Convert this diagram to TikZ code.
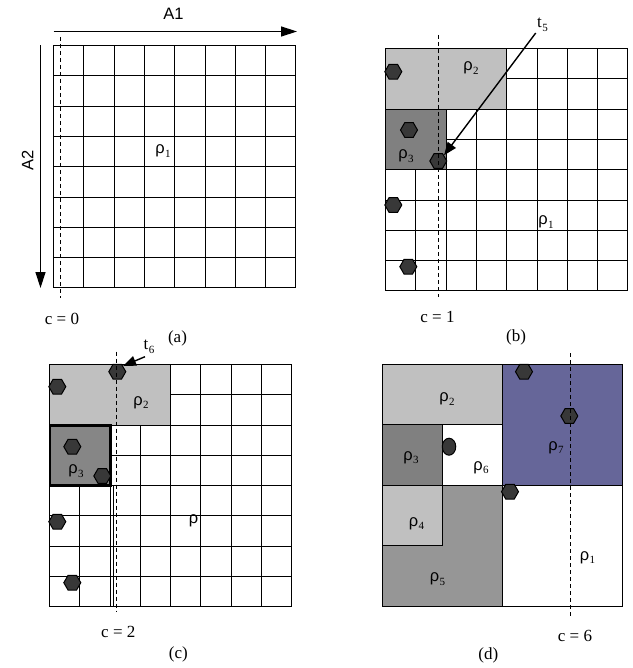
\documentclass[tikz,border=0pt]{standalone}
\usepackage{fontspec}
\setmainfont{Liberation Serif}
\setsansfont{Liberation Sans}
\usetikzlibrary{shapes.geometric,arrows.meta}
\definecolor{lgray}{HTML}{C0C0C0}
\definecolor{dgray}{HTML}{808080}
\definecolor{mgray}{HTML}{969696}
\definecolor{purp}{HTML}{666699}
\definecolor{dotc}{HTML}{383838}
\newcommand{\rr}[1]{{\fontsize{16.5}{16.5}\sffamily ρ}\kern0.3pt\raisebox{-3.5pt}{\fontsize{11}{11}\selectfont #1}}
\newcommand{\tlab}[1]{{\fontsize{17}{17}\selectfont t}\kern0.3pt\raisebox{-3.5pt}{\fontsize{11}{11}\selectfont #1}}
% grid of 8x8 cells, lines snapped to pixel centres
\newcommand{\gridpanel}[3]{%
  \pgfmathsetmacro\gxs{round(#1)+0.5}%
  \pgfmathsetmacro\gys{round(#2)+0.5}%
  \pgfmathsetmacro\gxe{round(#1+8*#3)+0.5}%
  \pgfmathsetmacro\gye{round(#2+8*#3)+0.5}%
  \foreach \i in {0,...,8} {
    \pgfmathsetmacro\gx{round(#1+\i*#3)+0.5}
    \pgfmathsetmacro\gy{round(#2+\i*#3)+0.5}
    \draw[gl] (\gx,\gys) -- (\gx,\gye);
    \draw[gl] (\gxs,\gy) -- (\gxe,\gy);
  }}
\tikzset{
  gl/.style={line width=1.4pt, line cap=rect},
  dashln/.style={line width=1.1pt, dash pattern=on 4pt off 3pt},
  dotn/.style={regular polygon, regular polygon sides=6, minimum size=17pt, inner sep=0pt, fill=dotc, draw=black, line width=1pt},
  lab/.style={font=\fontsize{17}{17}\selectfont, inner sep=0pt},
  rl/.style={inner sep=0pt},
  axarrow/.style={line width=1.4pt, -{Triangle[length=16pt,width=10pt]}},
  ptr/.style={line width=1.4pt, -{Triangle[length=13pt,width=10pt]}},
  region/.style={draw=black, line width=1.4pt}
}
\begin{document}
\begin{tikzpicture}[x=1pt,y=-1pt]
\useasboundingbox (0,0) rectangle (632,668);
\fill[white] (0,0) rectangle (632,668);

% ---------- panel (a) ----------
\gridpanel{53}{45}{30.3}
\coordinate (a1s) at (53.5,31.5);
\coordinate (a1e) at (297,31.5);
\draw[axarrow] (a1s) -- (a1e);
\node[font=\fontsize{16.5}{16.5}\sffamily, inner sep=0pt] (A1) at (173.5,14) {A1};
\coordinate (a2s) at (40.5,45.5);
\coordinate (a2e) at (40.5,288);
\draw[axarrow] (a2s) -- (a2e);
\node[font=\fontsize{16.5}{16.5}\sffamily, inner sep=0pt, rotate=90] (A2) at (27.5,160) {A2};
\coordinate (dAs) at (60.5,37);
\coordinate (dAe) at (60.5,298);
\draw[dashln] (dAs) -- (dAe);
\node[rl] (ra1) at (163,151) {\rr{1}};
\node[lab] (c0) at (62,319) {c = 0};
\node[lab] (la) at (177.5,338) {(a)};

% ---------- panel (b) ----------
\gridpanel{385}{48}{30.3}
\filldraw[region, fill=lgray] (385.5,48.5) rectangle (506.5,109.5);
\filldraw[region, fill=dgray] (385.5,109.5) rectangle (446.5,169.5);
\node[dotn] (b1) at (393.3,71.7) {};
\node[dotn] (b2) at (409,130) {};
\node[dotn] (b3) at (438.3,161) {};
\node[dotn] (b4) at (393.3,205) {};
\node[dotn] (b5) at (408.3,266.7) {};
\coordinate (dBs) at (438.5,35);
\coordinate (dBe) at (438.5,297);
\draw[dashln] (dBs) -- (dBe);
\node[rl] (rb2) at (471,68) {\rr{2}};
\node[rl] (rb3) at (406,156) {\rr{3}};
\node[rl] (rb1) at (546,222) {\rr{1}};
\node[rl] (t5) at (542.5,25) {\tlab{5}};
\coordinate (t5s) at (535.7,33);
\draw[ptr] (t5s) -- (b3.north east);
\node[lab] (c1) at (437.5,317) {c = 1};
\node[lab] (lb) at (516,337) {(b)};

% ---------- panel (c) ----------
\gridpanel{49}{364}{30.25}
\draw[line width=1pt] (113,485.5) -- (113,606.5);
\filldraw[region, fill=lgray] (49.5,364.5) rectangle (170.5,425.5);
\filldraw[draw=black, line width=2.2pt, fill=dgray!95!white] (50,425.5) rectangle (110.5,485.5);
\node[dotn] (c1d) at (57.3,386.7) {};
\node[dotn] (c2d) at (117.3,371.7) {};
\node[dotn] (c3d) at (72.3,446.7) {};
\node[dotn] (c4d) at (102.3,476) {};
\node[dotn] (c5d) at (57.3,521.7) {};
\node[dotn] (c6d) at (72.3,582.7) {};
\coordinate (dCs) at (116.5,351.7);
\coordinate (dCe) at (116.5,611.7);
\draw[dashln] (dCs) -- (dCe);
\node[rl] (rc2) at (141,402.5) {\rr{2}};
\node[rl] (rc3) at (76,471) {\rr{3}};
\node[rl, font=\fontsize{16.5}{16.5}\sffamily] (rc1) at (193.5,521) {ρ};
\node[rl] (t6) at (149,347) {\tlab{6}};
\coordinate (t6s) at (145,356.7);
\draw[ptr] (t6s) -- (c2d.north east);
\node[lab] (c2) at (118.3,632) {c = 2};
\node[lab] (lc) at (178.3,654) {(c)};

% ---------- panel (d) ----------
\filldraw[region, fill=lgray] (382.5,364.5) rectangle (502.5,424.5);
\filldraw[region, fill=purp] (502.5,364.5) rectangle (622.5,485.5);
\filldraw[region, fill=dgray] (382.5,424.5) rectangle (442.5,485.5);
\filldraw[region, fill=white] (442.5,424.5) rectangle (502.5,485.5);
\filldraw[region, fill=mgray] (382.5,545.5) -- (382.5,606.5) -- (502.5,606.5) -- (502.5,485.5) -- (442.5,485.5) -- (442.5,545.5) -- cycle;
\filldraw[region, fill=lgray] (382.5,485.5) rectangle (442.5,545.5);
\filldraw[region, fill=white] (502.5,485.5) rectangle (622.5,606.5);
\node[dotn] (d1) at (524,371.7) {};
\node[dotn] (d2) at (569.3,416) {};
\node[ellipse, minimum width=13.5pt, minimum height=17pt, inner sep=0pt, fill=dotc, draw=black, line width=1pt] (d3) at (449,446.7) {};
\node[dotn] (d4) at (510,491.7) {};
\coordinate (dDs) at (570.5,353.3);
\coordinate (dDe) at (570.5,616.7);
\draw[dashln] (dDs) -- (dDe);
\node[rl] (rd2) at (447,399) {\rr{2}};
\node[rl] (rd7) at (556,447.5) {\rr{7}};
\node[rl] (rd3) at (411,457.5) {\rr{3}};
\node[rl] (rd6) at (481,467.5) {\rr{6}};
\node[rl] (rd4) at (416.5,523.5) {\rr{4}};
\node[rl] (rd5) at (437.5,579) {\rr{5}};
\node[rl] (rd1) at (587.5,557.5) {\rr{1}};
\node[lab] (c6) at (575,635.5) {c = 6};
\node[lab] (ld) at (488.3,655.5) {(d)};
\end{tikzpicture}
\end{document}
